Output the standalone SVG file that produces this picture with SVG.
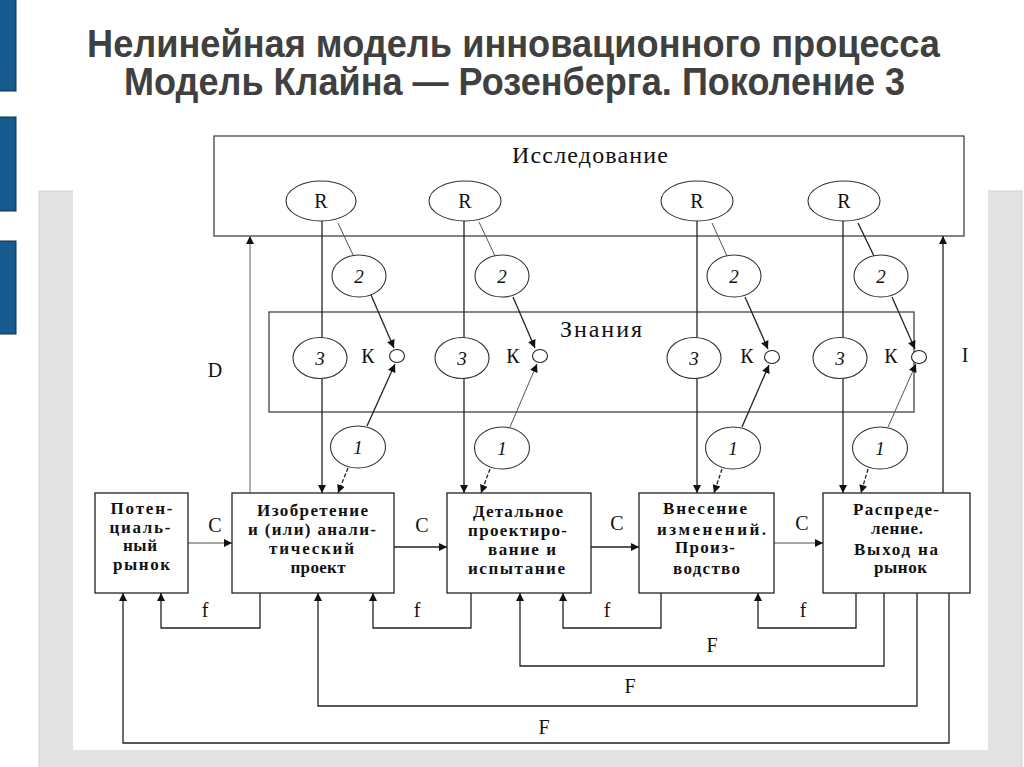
<svg xmlns="http://www.w3.org/2000/svg" width="1024" height="767" viewBox="0 0 1024 767">
<style>
.bar{fill:#175a8d;stroke:#0d2f4a;stroke-width:1}
.title{font-family:"Liberation Sans Narrow","Liberation Sans",Arial,sans-serif;font-weight:bold;font-size:38px;fill:#404040}
.frame{fill:none;stroke:#444;stroke-width:1.3}
.box{fill:#fff;stroke:#222;stroke-width:1.3}
.ell{fill:#fff;stroke:#333;stroke-width:1.1}
.kc{fill:#fff;stroke:#222;stroke-width:1.1}
.bt{font-family:"Liberation Serif","Times New Roman",serif;font-size:17px;font-weight:bold;fill:#111;text-anchor:middle}
.lbl{font-family:"Liberation Serif","Times New Roman",serif;font-size:20px;fill:#111;text-anchor:middle}
.big{font-family:"Liberation Serif","Times New Roman",serif;font-size:24px;fill:#111;text-anchor:middle}
.num{font-family:"Liberation Serif","Times New Roman",serif;font-size:19px;font-style:italic;fill:#111;text-anchor:middle}
.ln{fill:none;stroke:#222;stroke-width:1.3}
.thin{fill:none;stroke:#555;stroke-width:1}
.gray{fill:none;stroke:#888;stroke-width:1.3}
.arr{marker-end:url(#ah)}
</style>
<defs>
<marker id="ah" viewBox="0 0 10 10" refX="10" refY="5" markerWidth="10" markerHeight="8" markerUnits="userSpaceOnUse" orient="auto"><path d="M0,0 L10,5 L0,10 z" fill="#111"/></marker>
</defs>
<rect width="1024" height="767" fill="#fff"/>
<g id="slide-bars">
<rect class="bar" x="-1" y="-1" width="17" height="92"/>
<rect class="bar" x="-1" y="117" width="17" height="94"/>
<rect class="bar" x="-1" y="241" width="17" height="93"/>
</g>
<rect x="39" y="191" width="983" height="577" fill="#e3e3e3" stroke="#d2d2d2" stroke-width="1"/>
<rect x="73" y="130" width="915" height="620" fill="#fff"/>
<g id="title">
<text class="title" x="87" y="57" textLength="853" lengthAdjust="spacingAndGlyphs">Нелинейная модель инновационного процесса</text>
<text class="title" x="124" y="95" textLength="781" lengthAdjust="spacingAndGlyphs">Модель Клайна — Розенберга. Поколение 3</text>
</g>
<g id="research">
<rect class="frame" x="214" y="136" width="750" height="100"/>
<text class="big" x="590" y="163" textLength="156" lengthAdjust="spacing">Исследование</text>
</g>
<g id="knowledge">
<rect class="frame" x="269" y="312" width="645" height="100"/>
<text class="big" x="601" y="337" textLength="82" lengthAdjust="spacing">Знания</text>
</g>
<g id="connectors">
<path class="ln arr" d="M322,221 V493"/>
<path class="ln arr" d="M464,221 V493"/>
<path class="ln arr" d="M697,221 V493"/>
<path class="ln arr" d="M843,221 V493"/>
<path class="thin" d="M338,223 L353,255"/>
<path class="thin" d="M479,222 L495,256"/>
<path class="thin" d="M712,223 L727,256"/>
<path class="ln" d="M858,223 L874,256"/>
<path class="ln arr" d="M371,295 L394,348"/>
<path class="ln arr" d="M513,297 L535,348"/>
<path class="ln arr" d="M745,297 L768,349"/>
<path class="ln arr" d="M892,297 L915,349"/>
<path class="ln arr" d="M367,426 L395,364"/>
<path class="thin arr" d="M510,427 L537,364"/>
<path class="ln arr" d="M742,427 L769,365"/>
<path class="thin arr" d="M888,427 L916,364"/>
<path class="ln arr" stroke-dasharray="4,2" d="M348,468 L338,493"/>
<path class="ln arr" stroke-dasharray="4,2" d="M490,469 L481,493"/>
<path class="ln arr" stroke-dasharray="4,2" d="M722,469 L714,493"/>
<path class="ln arr" stroke-dasharray="4,2" d="M868,469 L861,493"/>
<path class="gray arr" d="M188,543 H232"/>
<path class="ln arr" d="M394,547 H447"/>
<path class="ln arr" d="M591,547 H639"/>
<path class="gray arr" d="M774,543 H823"/>
<path class="gray arr" d="M250,493 V236"/>
<path class="ln arr" d="M943,493 V236"/>
<path class="ln arr" d="M260,593 V628 H161 V593"/>
<path class="ln arr" d="M471,593 V628 H373 V593"/>
<path class="ln arr" d="M661,593 V628 H563 V593"/>
<path class="ln arr" d="M856,593 V628 H758 V593"/>
<path class="ln arr" d="M884,593 V666 H520 V593"/>
<path class="ln arr" d="M917,593 V706 H318 V593"/>
<path class="ln arr" d="M949,593 V743 H123 V593"/>
<text class="lbl" x="215" y="532">C</text>
<text class="lbl" x="422" y="532">C</text>
<text class="lbl" x="617" y="530">C</text>
<text class="lbl" x="802" y="530">C</text>
<text class="lbl" x="215" y="377">D</text>
<text class="lbl" x="965" y="362">I</text>
<text class="lbl" x="205" y="617">f</text>
<text class="lbl" x="417" y="617">f</text>
<text class="lbl" x="607" y="617">f</text>
<text class="lbl" x="803" y="617">f</text>
<text class="lbl" x="712" y="652">F</text>
<text class="lbl" x="630" y="693">F</text>
<text class="lbl" x="544" y="734">F</text>
</g>
<g id="r-nodes">
<g id="r1"><ellipse class="ell" cx="321" cy="201" rx="35" ry="20"/><text class="lbl" x="321" y="208">R</text></g>
<g id="r2"><ellipse class="ell" cx="465" cy="201" rx="36" ry="20"/><text class="lbl" x="465" y="208">R</text></g>
<g id="r3"><ellipse class="ell" cx="697" cy="201" rx="36" ry="20"/><text class="lbl" x="697" y="208">R</text></g>
<g id="r4"><ellipse class="ell" cx="844" cy="201" rx="36" ry="20"/><text class="lbl" x="844" y="208">R</text></g>
</g>
<g id="two-nodes">
<g id="n2a"><ellipse class="ell" cx="359" cy="276" rx="27" ry="21"/><text class="num" x="359" y="283">2</text></g>
<g id="n2b"><ellipse class="ell" cx="502" cy="276" rx="27" ry="21"/><text class="num" x="502" y="283">2</text></g>
<g id="n2c"><ellipse class="ell" cx="734" cy="276" rx="27" ry="21"/><text class="num" x="734" y="283">2</text></g>
<g id="n2d"><ellipse class="ell" cx="881" cy="276" rx="27" ry="21"/><text class="num" x="881" y="283">2</text></g>
</g>
<g id="three-nodes">
<g id="n3a"><ellipse class="ell" cx="320" cy="358" rx="27" ry="20.5"/><text class="num" x="320" y="365">3</text></g>
<g id="n3b"><ellipse class="ell" cx="462" cy="358" rx="27" ry="20.5"/><text class="num" x="462" y="365">3</text></g>
<g id="n3c"><ellipse class="ell" cx="694" cy="358" rx="27" ry="20.5"/><text class="num" x="694" y="365">3</text></g>
<g id="n3d"><ellipse class="ell" cx="840" cy="358" rx="27" ry="20.5"/><text class="num" x="840" y="365">3</text></g>
</g>
<g id="k-nodes">
<g id="ka"><text class="lbl" x="368" y="363">К</text><ellipse class="kc" cx="397" cy="356" rx="7.5" ry="6.5"/></g>
<g id="kb"><text class="lbl" x="513" y="363">К</text><ellipse class="kc" cx="540" cy="356" rx="7.5" ry="6.5"/></g>
<g id="kc"><text class="lbl" x="747" y="363">К</text><ellipse class="kc" cx="772" cy="357" rx="7.5" ry="6.5"/></g>
<g id="kd"><text class="lbl" x="891" y="363">К</text><ellipse class="kc" cx="919" cy="357" rx="7.5" ry="6.5"/></g>
</g>
<g id="one-nodes">
<g id="n1a"><ellipse class="ell" cx="358" cy="447" rx="27.5" ry="21"/><text class="num" x="358" y="454">1</text></g>
<g id="n1b"><ellipse class="ell" cx="502" cy="448" rx="27.5" ry="21"/><text class="num" x="502" y="455">1</text></g>
<g id="n1c"><ellipse class="ell" cx="733" cy="448" rx="27.5" ry="21"/><text class="num" x="733" y="455">1</text></g>
<g id="n1d"><ellipse class="ell" cx="880" cy="448" rx="27.5" ry="21"/><text class="num" x="880" y="455">1</text></g>
</g>
<g id="market">
<rect class="box" x="95" y="493" width="93" height="100"/>
<text class="bt" x="141.5" y="514" textLength="62" lengthAdjust="spacing">Потен-</text>
<text class="bt" x="140" y="533" textLength="61" lengthAdjust="spacing">циаль-</text>
<text class="bt" x="140" y="551" textLength="34" lengthAdjust="spacing">ный</text>
<text class="bt" x="141.5" y="570" textLength="57" lengthAdjust="spacing">рынок</text>
</g>
<g id="invention">
<rect class="box" x="232" y="493" width="162" height="100"/>
<text class="bt" x="312.5" y="516" textLength="111" lengthAdjust="spacing">Изобретение</text>
<text class="bt" x="312" y="535" textLength="128" lengthAdjust="spacing">и (или) анали-</text>
<text class="bt" x="311.5" y="554" textLength="85" lengthAdjust="spacing">тический</text>
<text class="bt" x="318" y="573" textLength="55" lengthAdjust="spacing">проект</text>
</g>
<g id="design">
<rect class="box" x="447" y="493" width="144" height="100"/>
<text class="bt" x="518" y="517" textLength="90" lengthAdjust="spacing">Детальное</text>
<text class="bt" x="517.5" y="536" textLength="99" lengthAdjust="spacing">проектиро-</text>
<text class="bt" x="522" y="555" textLength="68" lengthAdjust="spacing">вание и</text>
<text class="bt" x="516.5" y="574" textLength="97" lengthAdjust="spacing">испытание</text>
</g>
<g id="production">
<rect class="box" x="639" y="493" width="135" height="100"/>
<text class="bt" x="705" y="514" textLength="84" lengthAdjust="spacing">Внесение</text>
<text class="bt" x="711.5" y="535" textLength="109" lengthAdjust="spacing">изменений.</text>
<text class="bt" x="705" y="553" textLength="60" lengthAdjust="spacing">Произ-</text>
<text class="bt" x="706.5" y="574" textLength="67" lengthAdjust="spacing">водство</text>
</g>
<g id="distribution">
<rect class="box" x="823" y="493" width="147" height="100"/>
<text class="bt" x="896" y="515" textLength="86" lengthAdjust="spacing">Распреде-</text>
<text class="bt" x="897" y="534" textLength="52" lengthAdjust="spacing">ление.</text>
<text class="bt" x="896" y="555" textLength="84" lengthAdjust="spacing">Выход на</text>
<text class="bt" x="900.5" y="573" textLength="53" lengthAdjust="spacing">рынок</text>
</g>
</svg>
